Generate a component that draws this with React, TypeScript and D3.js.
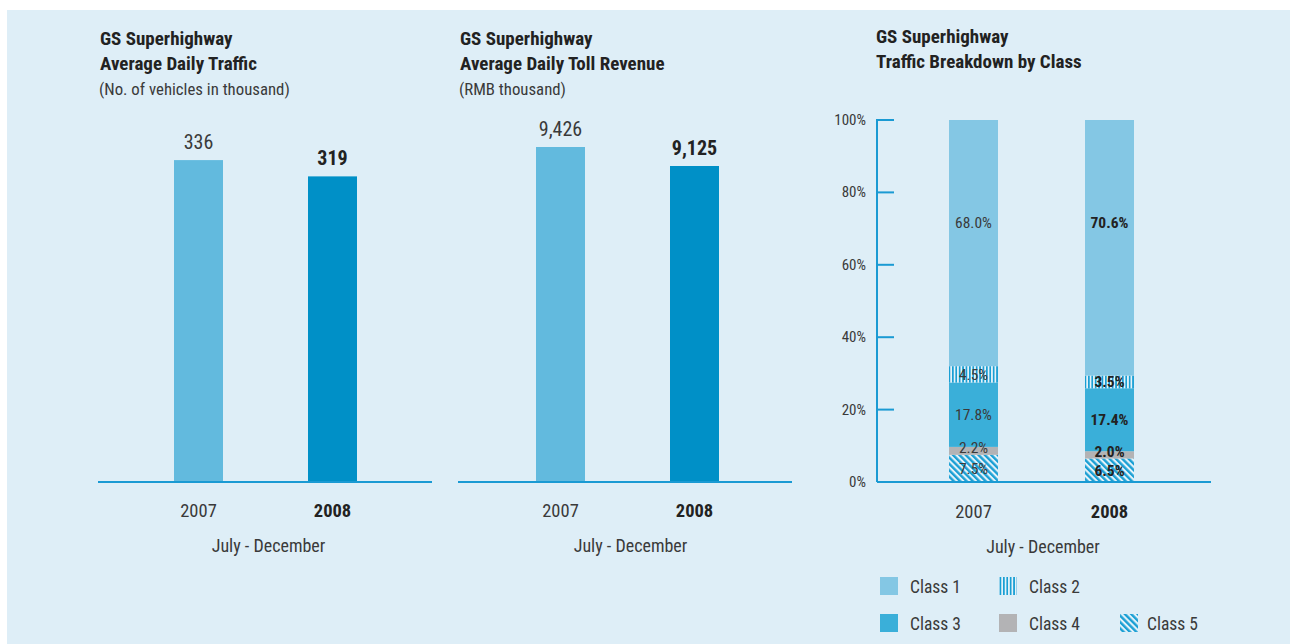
import React from "react";
import * as d3 from "d3";

const years = ["2007", "2008"];
const trafficValues = [336, 319];
const trafficLabels = ["336", "319"];
const revenueValues = [9426, 9125];
const revenueLabels = ["9,426", "9,125"];
const classNames = ["Class 1", "Class 2", "Class 3", "Class 4", "Class 5"];
// stacking order bottom -> top
const stackOrder = ["Class 5", "Class 4", "Class 3", "Class 2", "Class 1"];
const class1 = [68.0, 70.6];
const class2 = [4.5, 3.5];
const class3 = [17.8, 17.4];
const class4 = [2.2, 2.0];
const class5 = [7.5, 6.5];
const pctTicks = [0, 20, 40, 60, 80, 100];

const FONT = "'Liberation Sans Narrow', 'Roboto Condensed', 'DejaVu Sans Condensed', 'Liberation Sans', Arial, sans-serif";
const BG = "#deeef7";
const AXIS = "#1a9ad3";
const TXT = "#3a3a3a";
const BOLD = "#222";
const barColors = ["#62bade", "#0090c7"];
const fills: Record<string, string> = {
  "Class 1": "#84c7e4",
  "Class 2": "url(#vstripe)",
  "Class 3": "#3aafd9",
  "Class 4": "#b3b3b5",
  "Class 5": "url(#dstripe)",
};
const BAR_W = 49;

function BarPanel({ x0, x1, c0, c1, title, sub, values, labels, domain }: any) {
  const baseY = 482;
  const xs = d3.scalePoint().domain(years).range([c0, c1]);
  const y = d3.scaleLinear().domain(domain).range([baseY, 0]);
  return (
    <g>
      <text x={x0 + 2} y={45} fontFamily={FONT} fontWeight="bold" fontSize={19} fill={BOLD}>{title[0]}</text>
      <text x={x0 + 2} y={70} fontFamily={FONT} fontWeight="bold" fontSize={19} fill={BOLD}>{title[1]}</text>
      <text x={x0 + 1} y={95} fontFamily={FONT} fontSize={16.8} fill={TXT}>{sub}</text>
      {years.map((yr, i) => {
        const cx = xs(yr)!;
        const top = y(values[i]);
        return (
          <g key={yr}>
            <rect x={cx - BAR_W / 2} y={top} width={BAR_W} height={baseY - top} fill={barColors[i]} />
            <text x={cx} y={top - 11} textAnchor="middle" fontFamily={FONT} fontSize={20}
              fontWeight={i === 1 ? "bold" : "normal"} fill={i === 1 ? BOLD : TXT}>{labels[i]}</text>
            <text x={cx} y={517} textAnchor="middle" fontFamily={FONT} fontSize={18.5}
              fontWeight={i === 1 ? "bold" : "normal"} fill={i === 1 ? BOLD : TXT}>{yr}</text>
          </g>
        );
      })}
      <line x1={x0} x2={x1} y1={baseY} y2={baseY} stroke={AXIS} strokeWidth={2} />
      <text x={(c0 + c1) / 2 + 3} y={552} textAnchor="middle" fontFamily={FONT} fontSize={18} fill={TXT}>July - December</text>
    </g>
  );
}

function StackPanel() {
  const axisX = 877;
  const baseY = 482;
  const y = d3.scaleLinear().domain([0, 100]).range([baseY, 120]);
  const xs = d3.scalePoint().domain(years).range([973.5, 1109.5]);
  const valueMap: Record<string, number[]> = {
    "Class 1": class1, "Class 2": class2, "Class 3": class3, "Class 4": class4, "Class 5": class5,
  };
  const rows = years.map((yr, i) => {
    const r: any = { year: yr };
    stackOrder.forEach((c) => (r[c] = valueMap[c][i]));
    return r;
  });
  const series = d3.stack().keys(stackOrder)(rows);
  const legend = [
    { name: "Class 1", x: 880, y: 577 },
    { name: "Class 2", x: 999, y: 577 },
    { name: "Class 3", x: 880, y: 614 },
    { name: "Class 4", x: 999, y: 614 },
    { name: "Class 5", x: 1120, y: 614 },
  ];
  const labelY = (key: string, d: any) => {
    if (key === "Class 1") return y(71.5);
    const mid = (y(d[0]) + y(d[1])) / 2;
    if (key === "Class 4") return mid - 3.3;
    return mid;
  };
  return (
    <g>
      <text x={876} y={43} fontFamily={FONT} fontWeight="bold" fontSize={19} fill={BOLD}>GS Superhighway</text>
      <text x={876} y={68} fontFamily={FONT} fontWeight="bold" fontSize={19} fill={BOLD}>Traffic Breakdown by Class</text>
      {series.map((s) => (
        <g key={s.key}>
          {s.map((d, i) => {
            const cx = xs(years[i])!;
            const top = y(d[1]);
            const bot = y(d[0]);
            return (
              <rect key={i} x={cx - BAR_W / 2} y={top} width={BAR_W} height={bot - top} fill={fills[s.key]} />
            );
          })}
        </g>
      ))}
      {series.map((s) => (
        <g key={"l" + s.key}>
          {s.map((d, i) => {
            const cx = xs(years[i])!;
            const v = d[1] - d[0];
            return (
              <text key={i} x={cx} y={labelY(s.key, d) + 5.3} textAnchor="middle"
                fontFamily={FONT} fontSize={15.5} fontWeight={i === 1 ? "bold" : "normal"}
                fill={i === 1 ? BOLD : TXT}>{v.toFixed(1)}%</text>
            );
          })}
        </g>
      ))}
      <line x1={axisX} x2={axisX} y1={y(100) - 1} y2={baseY} stroke={AXIS} strokeWidth={2} />
      {pctTicks.map((t) => (
        <g key={t}>
          <line x1={axisX} x2={axisX + 17} y1={y(t)} y2={y(t)} stroke={AXIS} strokeWidth={2} />
          <text x={866} y={y(t) + 5} textAnchor="end" fontFamily={FONT} fontSize={15} fill={TXT}>{t}%</text>
        </g>
      ))}
      <line x1={axisX} x2={1211} y1={baseY} y2={baseY} stroke={AXIS} strokeWidth={2} />
      {years.map((yr, i) => (
        <text key={yr} x={xs(yr)!} y={518} textAnchor="middle" fontFamily={FONT} fontSize={18.5}
          fontWeight={i === 1 ? "bold" : "normal"} fill={i === 1 ? BOLD : TXT}>{yr}</text>
      ))}
      <text x={1043} y={553} textAnchor="middle" fontFamily={FONT} fontSize={18} fill={TXT}>July - December</text>
      {legend.map((l) => (
        <g key={l.name}>
          <rect x={l.x} y={l.y} width={18} height={18} fill={fills[l.name]} />
          <text x={l.x + (l.name === "Class 5" ? 27 : 30)} y={l.y + 16} fontFamily={FONT} fontSize={17.5} fill={TXT}>{l.name}</text>
        </g>
      ))}
    </g>
  );
}

export default function App() {
  return (
    <svg width={1290} height={644} style={{ position: "absolute", left: 0, top: 0, display: "block" }}>
      <defs>
        <pattern id="vstripe" patternUnits="userSpaceOnUse" width={3.4} height={10}>
          <rect width={3.4} height={10} fill="#e4f2f9" />
          <rect width={1.7} height={10} fill="#1a9fd4" />
        </pattern>
        <pattern id="dstripe" patternUnits="userSpaceOnUse" width={4.5} height={4.5} patternTransform="rotate(-45)">
          <rect width={4.5} height={4.5} fill="#e4f2f9" />
          <rect width={2.4} height={4.5} fill="#1a9fd4" />
        </pattern>
      </defs>
      <rect x={0} y={0} width={1290} height={644} fill="#ffffff" />
      <rect x={7} y={10} width={1283} height={634} fill={BG} />
      <BarPanel x0={98} x1={432} c0={198.5} c1={332.5} title={["GS Superhighway", "Average Daily Traffic"]}
        sub="(No. of vehicles in thousand)" values={trafficValues} labels={trafficLabels} domain={[0, 503.1]} />
      <BarPanel x0={458} x1={792} c0={560.5} c1={694.5} title={["GS Superhighway", "Average Daily Toll Revenue"]}
        sub="(RMB thousand)" values={revenueValues} labels={revenueLabels} domain={[4120, 9426 + (9426 - 4120) * 147 / 335]} />
      <StackPanel />
    </svg>
  );
}
